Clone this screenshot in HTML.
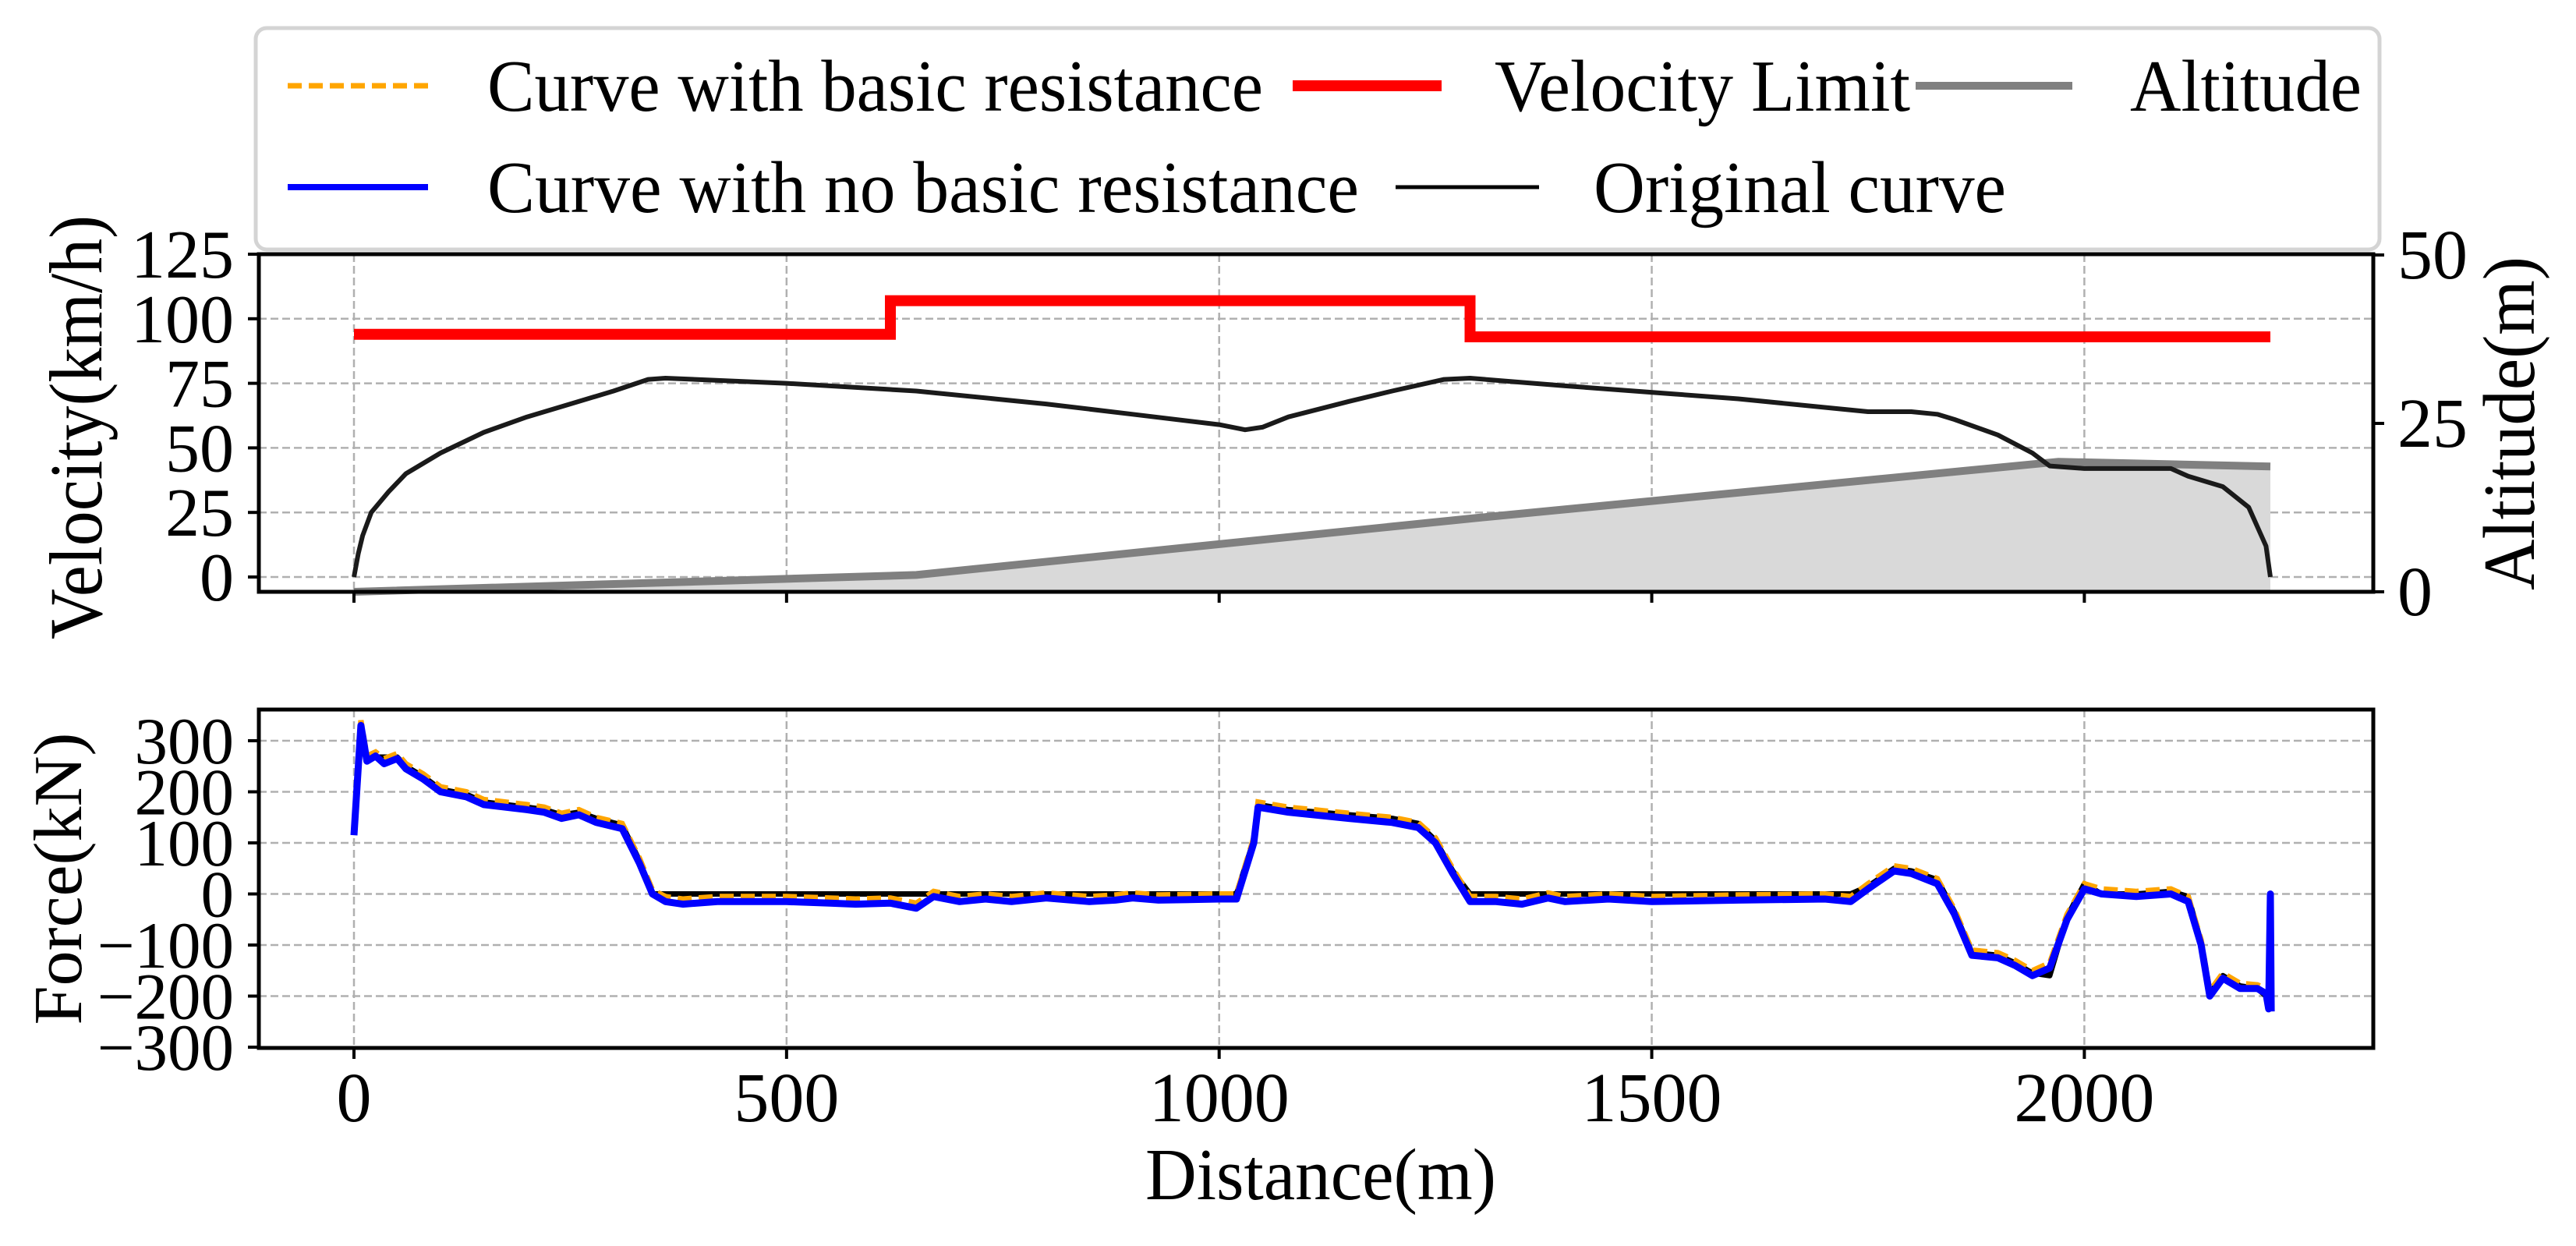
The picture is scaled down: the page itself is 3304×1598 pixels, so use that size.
<!DOCTYPE html>
<html><head><meta charset="utf-8"><style>
html,body{margin:0;padding:0;background:#fff}
svg{display:block}
text{font-family:"Liberation Serif","Times New Roman",serif;fill:#000}
</style></head><body>
<svg id="chart" width="3304" height="1598" viewBox="0 0 3304 1598" xmlns="http://www.w3.org/2000/svg">
<g id="grid"></g>
<g id="marks"></g>
<g id="axes"></g>
<g id="legend">
  <rect x="328" y="36" width="2724" height="284" rx="14" fill="#fff" stroke="#d4d4d4" stroke-width="5"/>
  <line x1="369" y1="110" x2="549" y2="110" stroke="#ffa500" stroke-width="7" stroke-dasharray="18,9"/>
  <text x="625" y="142" font-size="94" textLength="995" lengthAdjust="spacingAndGlyphs">Curve with basic resistance</text>
  <line x1="1658" y1="110" x2="1849" y2="110" stroke="#ff0000" stroke-width="14"/>
  <text x="1917" y="142" font-size="94" textLength="533" lengthAdjust="spacingAndGlyphs">Velocity Limit</text>
  <line x1="2457" y1="110" x2="2658" y2="110" stroke="#808080" stroke-width="10"/>
  <text x="2732" y="142" font-size="94" textLength="297" lengthAdjust="spacingAndGlyphs">Altitude</text>
  <line x1="369" y1="240" x2="549" y2="240" stroke="#0000ff" stroke-width="8"/>
  <text x="625" y="272" font-size="94" textLength="1118" lengthAdjust="spacingAndGlyphs">Curve with no basic resistance</text>
  <line x1="1790" y1="240" x2="1974" y2="240" stroke="#000" stroke-width="5"/>
  <text x="2044" y="272" font-size="94" textLength="529" lengthAdjust="spacingAndGlyphs">Original curve</text>
</g>
<text transform="translate(130,548) rotate(-90)" text-anchor="middle" font-size="96" textLength="544" lengthAdjust="spacingAndGlyphs">Velocity(km/h)</text>
<text transform="translate(3250,543) rotate(-90)" text-anchor="middle" font-size="94" textLength="428" lengthAdjust="spacingAndGlyphs">Altitude(m)</text>
<text transform="translate(104,1127) rotate(-90)" text-anchor="middle" font-size="88" textLength="375" lengthAdjust="spacingAndGlyphs">Force(kN)</text>
<text x="1694" y="1538" text-anchor="middle" font-size="94" textLength="450" lengthAdjust="spacingAndGlyphs">Distance(m)</text>
</svg>
<script>
const xTicks=[0,500,1000,1500,2000];
const vTicks=[0,25,50,75,100,125];
const altTicks=[0,25,50];
const fTicks=[-300,-200,-100,0,100,200,300];
const limitD=[0,620,620,1290,1290,2215];
const limitV=[94,94,107,107,93,93];
const velD=[0,5,10,20,40,60,100,150,200,250,300,340,360,500,650,800,900,1000,1030,1050,1080,1150,1200,1260,1290,1400,1600,1750,1800,1830,1850,1900,1940,1960,2000,2100,2120,2160,2190,2210,2215];
const velV=[0,9,16,25,33,40,48,56,62,67,72,76.5,77,75,72,67,63,59,57,58,62,68,72,76.5,77,74,69,64,64,63,61,55,48,43,42,42,39,35,27,12,0];
const altD=[0,650,1300,1970,2215];
const altV=[0,2.5,11,19.3,18.6];
const fD=[0,8,15,25,35,50,60,80,100,130,150,200,220,240,260,280,310,330,345,360,380,420,500,550,580,620,650,670,700,730,760,800,850,880,900,930,1000,1020,1040,1045,1080,1150,1200,1230,1250,1270,1290,1320,1350,1380,1400,1450,1500,1600,1700,1730,1750,1780,1800,1830,1850,1870,1900,1920,1940,1960,1980,2000,2020,2060,2100,2120,2135,2145,2160,2180,2200,2210,2213,2215,2216];
const fBlue=[115,330,260,270,255,265,245,225,200,190,175,165,160,148,155,140,128,60,0,-15,-20,-15,-15,-18,-20,-18,-28,-5,-15,-10,-15,-8,-15,-12,-8,-12,-10,-10,100,170,160,148,140,130,100,40,-15,-15,-20,-8,-15,-10,-15,-12,-10,-15,10,45,40,20,-40,-120,-125,-140,-160,-145,-50,10,0,-5,0,-15,-100,-200,-165,-185,-185,-195,-225,0,-230];
const fOrange=[120,340,270,278,265,275,255,235,210,200,185,175,170,158,165,150,138,70,8,-5,-10,-5,-5,-8,-10,-8,-18,5,-5,0,-5,2,-5,-2,2,-2,0,0,110,180,170,158,150,140,110,50,-5,-5,-10,2,-5,0,-5,-2,0,-5,20,55,50,30,-30,-110,-115,-130,-150,-135,-40,20,10,5,10,-5,-90,-190,-155,-175,-178,-185,-215,0,-220];
const fBlack=[120,330,265,268,268,268,250,230,205,195,180,170,165,155,160,148,135,65,0,0,0,0,0,0,0,0,0,0,0,0,0,0,0,0,0,0,0,0,105,175,165,155,148,138,105,45,0,0,0,0,0,0,0,0,0,0,15,50,45,28,-35,-115,-120,-135,-155,-160,-45,20,0,0,5,-5,-95,-195,-160,-180,-185,-200,-220,0,-225];

const NS='http://www.w3.org/2000/svg';
const L=332,R=3044,T1=326,B1=759,T2=910,B2=1344;
function X(d){return 454+d*1.1097;}
function YV(v){return 740-v*3.312;}
function YA(a){return 759-a*8.64;}
function YF(f){return 1146.5-f*0.655;}
function mk(tag,attrs,parent){const e=document.createElementNS(NS,tag);for(const k in attrs)e.setAttribute(k,attrs[k]);parent.appendChild(e);return e;}
const grid=document.getElementById('grid'),marks=document.getElementById('marks'),axes=document.getElementById('axes');
const gs={stroke:'#b0b0b0','stroke-width':2.5,'stroke-dasharray':'10,5'};
xTicks.forEach(t=>{
  let g1=mk('line',Object.assign({x1:X(t),x2:X(t),y1:T1,y2:B1},gs),grid);
  
  
  let g2=mk('line',Object.assign({x1:X(t),x2:X(t),y1:T2,y2:B2},gs),grid);
  
  
});
vTicks.forEach(t=>{if(t===125)return;
  let g=mk('line',Object.assign({x1:L,x2:R,y1:YV(t),y2:YV(t)},gs),grid);
  
  
});
fTicks.forEach(t=>{if(t===-300)return;
  let g=mk('line',Object.assign({x1:L,x2:R,y1:YF(t),y2:YF(t)},gs),grid);
  
  
});
function pts(ds,vs,fy){return ds.map((d,i)=>X(d).toFixed(1)+','+fy(vs[i]).toFixed(1)).join(' ');}
let ap=pts(altD,altV,YA)+' '+X(altD[altD.length-1])+','+YA(0)+' '+X(altD[0])+','+YA(0);
let af=mk('polygon',{points:ap,fill:'#d9d9d9'},marks);


let al=mk('polyline',{points:pts(altD,altV,YA),fill:'none',stroke:'#808080','stroke-width':10},marks);


let vl=mk('polyline',{points:pts(limitD,limitV,YV),fill:'none',stroke:'#ff0000','stroke-width':14},marks);


let vc=mk('polyline',{points:pts(velD,velV,YV),fill:'none',stroke:'#1a1a1a','stroke-width':6,'stroke-linejoin':'round'},marks);


let fk=mk('polyline',{points:pts(fD,fBlack,YF),fill:'none',stroke:'#000','stroke-width':7,'stroke-linejoin':'round'},marks);


let fo=mk('polyline',{points:pts(fD,fOrange,YF),fill:'none',stroke:'#ffa500','stroke-width':7,'stroke-dasharray':'18,9'},marks);


let fb=mk('polyline',{points:pts(fD,fBlue,YF),fill:'none',stroke:'#0000ff','stroke-width':9,'stroke-linejoin':'round'},marks);


[[T1,B1,'top-plot-frame'],[T2,B2,'bottom-plot-frame']].forEach(a=>{
  let r=mk('rect',{x:L,y:a[0],width:R-L,height:a[1]-a[0],fill:'none',stroke:'#000','stroke-width':5},axes);
  
  
});
xTicks.forEach(t=>{
  mk('line',{x1:X(t),x2:X(t),y1:B1,y2:B1+14,stroke:'#000','stroke-width':4},axes);
  mk('line',{x1:X(t),x2:X(t),y1:B2,y2:B2+14,stroke:'#000','stroke-width':4},axes);
  let tx=mk('text',{x:X(t),y:1438,'text-anchor':'middle','font-size':90},axes);
  tx.textContent=t;
  
  
});
vTicks.forEach(t=>{
  mk('line',{x1:L-14,x2:L,y1:YV(t),y2:YV(t),stroke:'#000','stroke-width':4},axes);
  let tx=mk('text',{x:300,y:YV(t)+30,'text-anchor':'end','font-size':88},axes);
  tx.textContent=t;
  
  
});
altTicks.forEach(t=>{
  mk('line',{x1:R,x2:R+14,y1:YA(t),y2:YA(t),stroke:'#000','stroke-width':4},axes);
  let tx=mk('text',{x:3075,y:YA(t)+30,'font-size':90},axes);
  tx.textContent=t;
  
  
});
fTicks.forEach(t=>{
  mk('line',{x1:L-14,x2:L,y1:YF(t),y2:YF(t),stroke:'#000','stroke-width':4},axes);
  let tx=mk('text',{x:300,y:YF(t)+29,'text-anchor':'end','font-size':85},axes);
  tx.textContent=t<0?'\u2212'+(-t):t;
  
  
});
</script>
</body></html>
